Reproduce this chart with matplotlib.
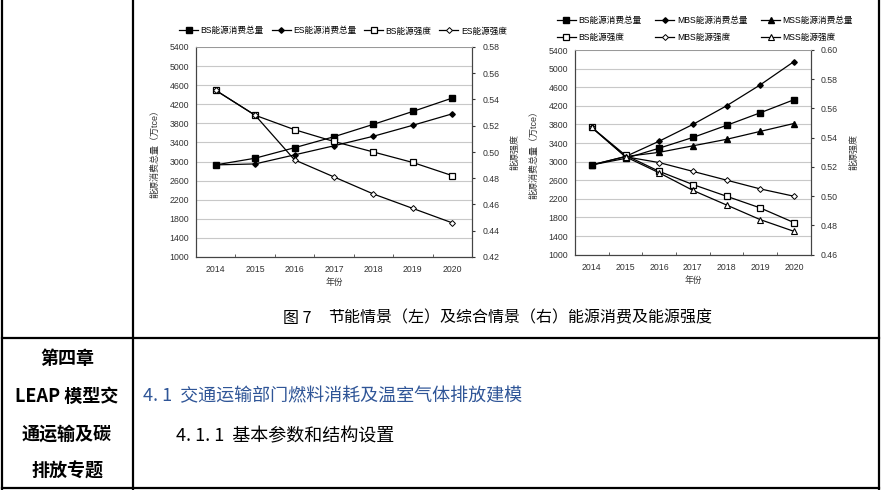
import matplotlib
matplotlib.use('Agg')
import matplotlib.pyplot as plt
from matplotlib.lines import Line2D
from matplotlib.ticker import FormatStrFormatter

plt.rcParams['font.family'] = ['Liberation Sans', 'Noto Sans CJK SC', 'DejaVu Sans']

# data
years = ['2014', '2015', '2016', '2017', '2018', '2019', '2020']

# left chart: energy-saving scenario
bs_total = [2930, 3070, 3290, 3520, 3780, 4050, 4330]
es_total = [2930, 2950, 3140, 3330, 3530, 3760, 4000]
bs_intensity = [0.547, 0.528, 0.517, 0.508, 0.500, 0.492, 0.482]
es_intensity = [0.547, 0.528, 0.494, 0.481, 0.468, 0.457, 0.446]

# right chart: combined scenario
mbs_total = [2930, 3110, 3440, 3800, 4200, 4650, 5150]
mss_total = [2930, 3110, 3200, 3340, 3480, 3650, 3820]
mbs_intensity = [0.547, 0.527, 0.523, 0.517, 0.511, 0.505, 0.500]
mss_intensity = [0.547, 0.527, 0.516, 0.504, 0.494, 0.484, 0.476]

total_ticks = list(range(1000, 5401, 400))

W, H = 882, 490


def fx(px):
    return px / W


def fy(py):
    return 1 - py / H


def style_axes(ax, ax2, r_lo, r_hi):
    ax.set_xlim(-0.5, len(years) - 0.5)
    ax.set_xticks(list(range(len(years))))
    ax.set_xticklabels(years)
    ax.set_xticks([i - 0.5 for i in range(len(years) + 1)], minor=True)
    ax.tick_params(axis='x', which='major', length=0, labelsize=6.3, colors='#333333', pad=6)
    ax.tick_params(axis='x', which='minor', length=2.5, direction='in', color='#444444')
    ax.set_ylim(total_ticks[0], total_ticks[-1])
    ax.set_yticks(total_ticks)
    ax.tick_params(axis='y', length=0, labelsize=6.3, colors='#333333', pad=5)
    ax.grid(axis='y', color='#c8c8c8', lw=0.8)
    ax.set_axisbelow(True)
    ax2.set_ylim(r_lo, r_hi)
    n = int(round((r_hi - r_lo) / 0.02))
    ax2.set_yticks([r_lo + 0.02 * i for i in range(n + 1)])
    ax2.yaxis.set_major_formatter(FormatStrFormatter('%.2f'))
    ax2.tick_params(axis='y', length=2.5, labelsize=6.3, colors='#333333', pad=5)
    for a in (ax, ax2):
        for side in ('left', 'right', 'bottom'):
            a.spines[side].set_color('#444444')
            a.spines[side].set_linewidth(0.8)
        a.spines['top'].set_color('#999999')
        a.spines['top'].set_linewidth(0.7)
    ax.set_ylabel('能源消费总量（万tce）', fontsize=6.5, color='#333333', labelpad=7)
    ax2.set_ylabel('能源强度', fontsize=6.5, color='#333333', labelpad=8)
    ax.set_xlabel('年份', fontsize=6.3, color='#333333', labelpad=3)


fig = plt.figure(figsize=(W / 100, H / 100), dpi=100)

line_kw = dict(color='black', lw=0.9)
x = list(range(len(years)))

# left chart
ax = fig.add_axes([fx(196), fy(257), fx(472) - fx(196), fy(47) - fy(257)])
ax2 = ax.twinx()
h1, = ax.plot(x, bs_total, marker='s', ms=4.5, mfc='black', mec='black', label='BS能源消费总量', **line_kw)
h2, = ax.plot(x, es_total, marker='D', ms=2.8, mfc='black', mec='black', label='ES能源消费总量', **line_kw)
h3, = ax2.plot(x, bs_intensity, marker='s', ms=4.5, mfc='white', mec='black', mew=0.9, label='BS能源强度', **line_kw)
h4, = ax2.plot(x, es_intensity, marker='D', ms=3, mfc='white', mec='black', mew=0.7, label='ES能源强度', **line_kw)
style_axes(ax, ax2, 0.42, 0.58)
left_handles = [h1, h2, h3, h4]
fig.legend(left_handles, [h.get_label() for h in left_handles], ncol=4,
           loc='center', bbox_to_anchor=(fx(343), fy(31)), frameon=False, fontsize=6.2,
           handlelength=2.2, columnspacing=0.9, handletextpad=0.3)

# right chart
bx = fig.add_axes([fx(575), fy(254.7), fx(810.7) - fx(575), fy(50) - fy(254.7)])
bx2 = bx.twinx()
g1, = bx.plot(x, bs_total, marker='s', ms=4.5, mfc='black', mec='black', label='BS能源消费总量', **line_kw)
g2, = bx.plot(x, mbs_total, marker='D', ms=2.8, mfc='black', mec='black', label='MBS能源消费总量', **line_kw)
g3, = bx.plot(x, mss_total, marker='^', ms=3.8, mfc='black', mec='black', label='MSS能源消费总量', **line_kw)
g4, = bx2.plot(x, bs_intensity, marker='s', ms=4.5, mfc='white', mec='black', mew=0.9, label='BS能源强度', **line_kw)
g5, = bx2.plot(x, mbs_intensity, marker='D', ms=3, mfc='white', mec='black', mew=0.7, label='MBS能源强度', **line_kw)
g6, = bx2.plot(x, mss_intensity, marker='^', ms=4, mfc='white', mec='black', mew=0.8, label='MSS能源强度', **line_kw)
style_axes(bx, bx2, 0.46, 0.60)
order = [g1, g4, g2, g5, g3, g6]
fig.legend(order, [h.get_label() for h in order], ncol=3,
           loc='center', bbox_to_anchor=(fx(705), fy(29)), frameon=False, fontsize=6.2,
           handlelength=2.2, columnspacing=1.6, handletextpad=0.3, labelspacing=1.0)

# document table lines
tl = dict(color='black', lw=1.6, transform=fig.transFigure)
fig.add_artist(Line2D([fx(2), fx(2)], [fy(0), fy(489)], **tl))
fig.add_artist(Line2D([fx(133), fx(133)], [fy(0), fy(489)], **tl))
fig.add_artist(Line2D([fx(879), fx(879)], [fy(0), fy(489)], **tl))
fig.add_artist(Line2D([fx(2), fx(879)], [fy(338), fy(338)], **tl))
fig.add_artist(Line2D([fx(2), fx(879)], [fy(488), fy(488)], **tl))

cjk = ['Noto Sans CJK SC', 'DejaVu Sans']

# caption
fig.text(fx(283), fy(318), '图 7', fontsize=11.5, va='center', ha='left', family=cjk)
fig.text(fx(328), fy(318), '节能情景（左）及综合情景（右）能源消费及能源强度', fontsize=11.5,
         va='center', ha='left', family=cjk)

# chapter cell
for label, yy in [('第四章', 358), ('LEAP 模型交', 396), ('通运输及碳', 434), ('排放专题', 471)]:
    fig.text(fx(67), fy(yy), label, fontsize=13, fontweight='bold', ha='center', va='center', family=cjk)

fig.text(fx(143), fy(396), '4. 1  交通运输部门燃料消耗及温室气体排放建模', fontsize=13,
         color='#2F5597', ha='left', va='center', family=cjk)
fig.text(fx(176), fy(436), '4. 1. 1  基本参数和结构设置', fontsize=13,
         ha='left', va='center', family=cjk)

fig.savefig('out.png', dpi=100)
